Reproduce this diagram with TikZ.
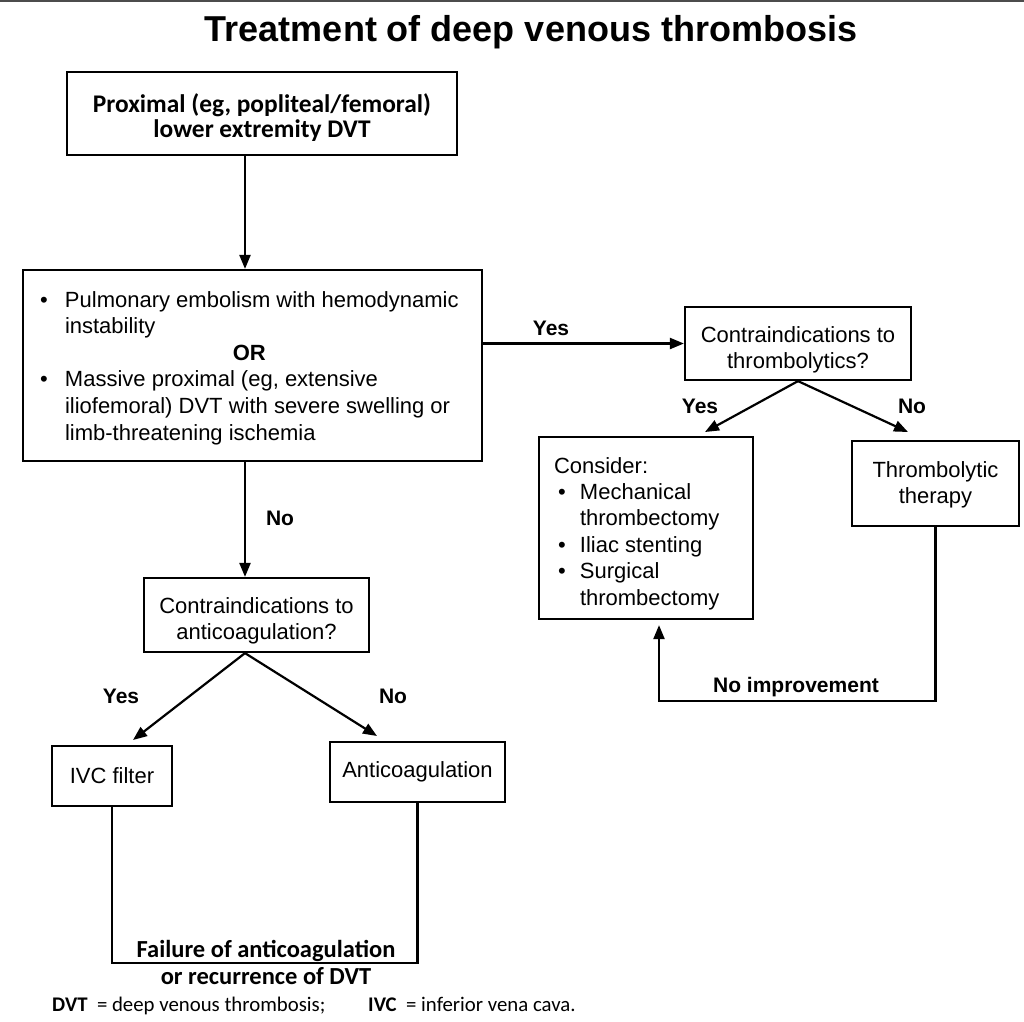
\documentclass[tikz,border=0pt]{standalone}
\usepackage{fontspec}
\setmainfont{Liberation Sans}
\newfontfamily\calfont{Carlito}
\usetikzlibrary{arrows.meta}
% first baseline pinned at a fixed height above the node centre
\newcommand{\pinned}[2]{\raisebox{#1}[0pt][0pt]{#2}}

\begin{document}
\begin{tikzpicture}[x=1pt, y=-1pt,
    box/.style={draw, line width=2.2pt, inner sep=0pt,
        font=\fontsize{22}{26.4}\selectfont},
    link/.style={line width=2.2pt, -{Triangle[length=14pt,width=11pt]}},
    wire/.style={line width=2.2pt},
    lbl/.style={inner sep=0pt, font=\fontsize{21}{25}\selectfont\bfseries}]

\useasboundingbox (0,0) rectangle (1024,1021);

% Frame edge at the top
\draw[gray!60!black, line width=2.5pt] (0,1) -- (1024,1);

% Title
\node[font=\fontsize{36}{40}\selectfont\bfseries] (title) at (531,32)
    {Treatment of deep venous thrombosis};

% Boxes
\node[box, minimum width=390pt, minimum height=83pt,
    font=\calfont\fontsize{25.4}{25}\selectfont\bfseries] (prox) at (262,113.5)
    {\pinned{1.5pt}{\begin{tabular}[t]{@{}c@{}}
     Proximal (eg, popliteal/femoral)\\lower extremity DVT\end{tabular}}};

\node[box, minimum width=459pt, minimum height=191pt,
    font=\fontsize{22}{26.6}\selectfont] (crit) at (252.5,365.5)
    {\pinned{58.5pt}{\makebox[425pt][l]{\begin{tabular}[t]{@{}p{25pt}@{}l@{}}
     \textbullet & Pulmonary embolism with hemodynamic\\
      & instability\\
     \multicolumn{2}{c}{\textbf{OR}}\\
     \textbullet & Massive proximal (eg, extensive\\
      & iliofemoral) DVT with severe swelling or\\
      & limb-threatening ischemia
     \end{tabular}}}};

\node[box, minimum width=226pt, minimum height=73pt] (lysq) at (798,343.5)
    {\pinned{1.5pt}{\begin{tabular}[t]{@{}c@{}}
     Contraindications to\\thrombolytics?\end{tabular}}};

\node[box, minimum width=214pt, minimum height=182pt] (consider) at (646,528)
    {\pinned{55pt}{\makebox[184pt][l]{\begin{tabular}[t]{@{\hspace{4pt}}p{22pt}@{}l@{}}
     \multicolumn{2}{@{}l}{Consider:}\\
     \textbullet & Mechanical\\
      & thrombectomy\\
     \textbullet & Iliac stenting\\
     \textbullet & Surgical\\
      & thrombectomy
     \end{tabular}}}};

\node[box, minimum width=167pt, minimum height=85pt] (lysis) at (935.5,483.5)
    {\pinned{6.5pt}{\begin{tabular}[t]{@{}c@{}}
     Thrombolytic\\therapy\end{tabular}}};

\node[box, minimum width=225pt, minimum height=74pt] (acq) at (256.5,615)
    {\pinned{2pt}{\begin{tabular}[t]{@{}c@{}}
     Contraindications to\\anticoagulation?\end{tabular}}};

\node[box, minimum width=120pt, minimum height=60pt] (ivc) at (112,776)
    {IVC filter};

\node[box, minimum width=175pt, minimum height=60pt] (acoag) at (417.5,772)
    {Anticoagulation};

% Arrow ends
\coordinate (spine) at (245,0);
\coordinate (consTip) at (705,432);
\coordinate (lysTip) at (908,432);
\coordinate (ivcTip) at (133,740);
\coordinate (acoTip) at (377,736);
\coordinate (back) at (659,701);
\coordinate (fail) at (0,963);

% Connectors
\draw[link] (prox.south -| spine) -- (crit.north -| spine);
\draw[link] (crit.south -| spine) -- (acq.north -| spine);
\draw[link] (crit.east |- lysq.west) -- (lysq.west);
\draw[link] (lysq.south) -- (consTip);
\draw[link] (lysq.south) -- (lysTip);
\draw[link] (acq.south -| spine) -- (ivcTip);
\draw[link] (acq.south -| spine) -- (acoTip);
\draw[link, shorten >=5pt] (lysis.south) |- (back) -- (back |- consider.south);
\draw[wire] (ivc.south) |- (fail -| acoag.south) -- (acoag.south);

% Labels
\node[lbl] (yesLys) at (551,328) {Yes};
\node[lbl] (yesCons) at (700,406) {Yes};
\node[lbl] (noLys) at (912,406) {No};
\node[lbl] (noCrit) at (280,518) {No};
\node[lbl] (yesIvc) at (121,696) {Yes};
\node[lbl] (noAco) at (393,696) {No};
\node[lbl] (noImp) at (796,687) {No improvement};

\node[font=\calfont\fontsize{24.5}{27}\selectfont\bfseries, inner sep=0pt]
    (failTxt) at (266,957)
    {\pinned{0pt}{\begin{tabular}[t]{@{}c@{}}
     Failure of anticoagulation\\or recurrence of DVT\end{tabular}}};

% Footnote
\node[anchor=base west, inner sep=0pt, font=\calfont\fontsize{20.8}{24}\selectfont]
    (fnDvt) at (52,1011) {\textbf{DVT}\ \ = deep venous thrombosis;};
\node[anchor=base west, inner sep=0pt, font=\calfont\fontsize{20.8}{24}\selectfont]
    (fnIvc) at (368,1011) {\textbf{IVC}\ \ = inferior vena cava.};

\end{tikzpicture}
\end{document}
